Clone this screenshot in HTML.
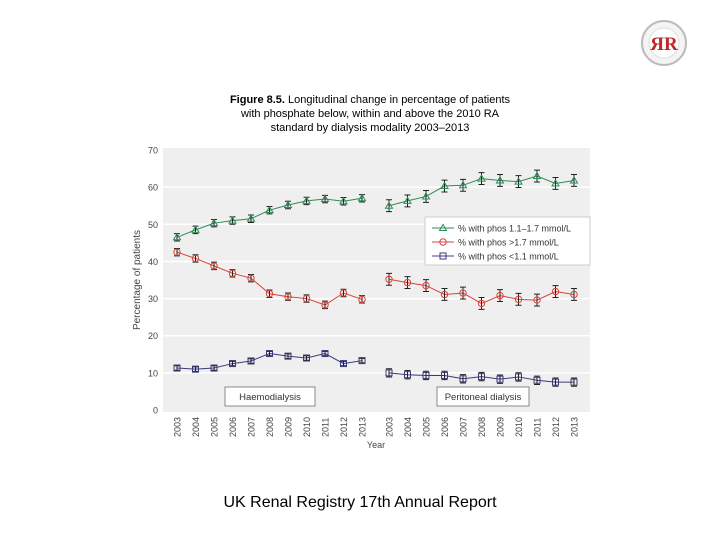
<!DOCTYPE html>
<html><head><meta charset="utf-8"><style>
body{margin:0;width:720px;height:540px;background:#fff;position:relative;font-family:"Liberation Sans",sans-serif;overflow:hidden}
#title{position:absolute;left:170px;top:93px;width:400px;text-align:center;font-size:11px;line-height:14px;color:#000}
#footer{position:absolute;left:0;width:720px;top:494px;text-align:center;font-size:16px;color:#000}
</style></head><body>
<div id="title"><b>Figure 8.5.</b> Longitudinal change in percentage of patients<br>with phosphate below, within and above the 2010 RA<br>standard by dialysis modality 2003–2013</div>
<svg width="720" height="540" style="position:absolute;left:0;top:0" id="svg">
<g>
<circle cx="664" cy="43" r="22" fill="#f4f4f4" stroke="#bbb" stroke-width="2"/>
<circle cx="664" cy="43" r="15" fill="#fff" stroke="#ddd"/>
<text x="664" y="50" text-anchor="middle" font-family="Liberation Serif,serif" font-weight="bold" font-size="19" fill="#c0272d">ЯR</text>
</g>
<rect x="163" y="148" width="427" height="264" fill="#efefef"/>
<g id="grid"></g><g id="axes"></g><g id="series"></g>
</svg>
<div id="footer">UK Renal Registry 17th Annual Report</div>
<script>
const years=["2003","2004","2005","2006","2007","2008","2009","2010","2011","2012","2013"];
const yTicks=[0,10,20,30,40,50,60,70];
const hdMid=[46.5,48.5,50.3,51,51.5,53.8,55.2,56.3,56.8,56.2,57];
const hdHigh=[42.5,40.8,38.8,36.8,35.5,31.3,30.5,30,28.3,31.5,29.8];
const hdLow=[11.3,11,11.3,12.5,13.2,15.2,14.5,14,15.2,12.5,13.3];
const pdMid=[55,56.3,57.5,60.3,60.5,62.3,61.8,61.5,63,61,61.8];
const pdHigh=[35.2,34.3,33.5,31.1,31.5,28.7,30.8,29.8,29.6,31.9,31.1];
const pdLow=[10,9.5,9.3,9.3,8.4,9,8.3,8.9,8,7.5,7.5];
const hdErr=1.0, pdErr=1.6;
const NS="http://www.w3.org/2000/svg";
function y(v){return 410-v*3.714;}
function xHD(i){return 177+i*18.5;}
function xPD(i){return 389+i*18.5;}
function mk(tag,at,parent){const e=document.createElementNS(NS,tag);for(const k in at)e.setAttribute(k,at[k]);document.getElementById(parent).appendChild(e);return e;}
yTicks.forEach(t=>{
 if(t>0&&t<70){const g=mk('line',{x1:163,x2:590,y1:y(t),y2:y(t),stroke:'#fff','stroke-width':1.5},'grid');
 
 }
 const l=mk('text',{x:158,y:y(t)+3.5,'text-anchor':'end','font-size':9,fill:'#444'},'axes');l.textContent=t;
 
 
});
[xHD,xPD].forEach((fx,k)=>years.forEach((yr,i)=>{
 const x=fx(i);const t=mk('text',{x:x+3.5,y:437,'font-size':9,fill:'#444',transform:`rotate(-90 ${x+3.5} 437)`},'axes');t.textContent=yr;
 
 
}));
const yt=mk('text',{x:140,y:280,'font-size':10,fill:'#444','text-anchor':'middle',transform:'rotate(-90 140 280)'},'axes');yt.textContent='Percentage of patients';


const xt=mk('text',{x:376,y:448,'font-size':9,fill:'#444','text-anchor':'middle'},'axes');xt.textContent='Year';


function marker(shape,x,yy,c){
 if(shape==='tri')return mk('polygon',{points:`${x},${yy-3.5} ${x-3.5},${yy+2.5} ${x+3.5},${yy+2.5}`,fill:'none',stroke:c},'series');
 if(shape==='circ')return mk('circle',{cx:x,cy:yy,r:3.2,fill:'none',stroke:c},'series');
 return mk('rect',{x:x-3,y:yy-3,width:6,height:6,fill:'none',stroke:c},'series');
}
function series(vals,fx,err,c,shape,name){
 const p=mk('polyline',{points:vals.map((v,i)=>fx(i)+','+y(v)).join(' '),fill:'none',stroke:c,'stroke-width':1},'series');
 
 
 vals.forEach((v,i)=>{const x=fx(i);
  const e=mk('path',{d:`M${x},${y(v+err)}V${y(v-err)}M${x-3},${y(v+err)}h6M${x-3},${y(v-err)}h6`,stroke:'#222','stroke-width':1,fill:'none'},'series');
  
  
  const m=marker(shape,x,y(v),c);
  
  
 });
}
series(hdMid,xHD,hdErr,'#2e8b57','tri','hd-mid');
series(hdHigh,xHD,hdErr,'#d9443a','circ','hd-high');
series(hdLow,xHD,hdErr*0.6,'#3b3b7a','sq','hd-low');
series(pdMid,xPD,pdErr,'#2e8b57','tri','pd-mid');
series(pdHigh,xPD,pdErr,'#d9443a','circ','pd-high');
series(pdLow,xPD,pdErr*0.7,'#3b3b7a','sq','pd-low');
const lg=mk('rect',{x:425,y:217,width:165,height:48,fill:'#fff',stroke:'#ccc'},'series');


[['% with phos 1.1–1.7 mmol/L','#2e8b57','tri'],['% with phos >1.7 mmol/L','#d9443a','circ'],['% with phos <1.1 mmol/L','#3b3b7a','sq']].forEach((d,i)=>{
 const yy=228+i*14;
 mk('line',{x1:432,x2:454,y1:yy,y2:yy,stroke:d[1]},'series');
 marker(d[2],443,yy,d[1]);
 const t=mk('text',{x:458,y:yy+3.5,'font-size':9,fill:'#333'},'series');t.textContent=d[0];
 
 
});
[['Haemodialysis',225,90],['Peritoneal dialysis',437,92]].forEach(d=>{
 const r=mk('rect',{x:d[1],y:387,width:d[2],height:19,fill:'#fff',stroke:'#888'},'series');
 
 
 const t=mk('text',{x:d[1]+d[2]/2,y:400,'font-size':9.5,fill:'#333','text-anchor':'middle'},'series');t.textContent=d[0];
 
 
});
</script>
</body></html>
